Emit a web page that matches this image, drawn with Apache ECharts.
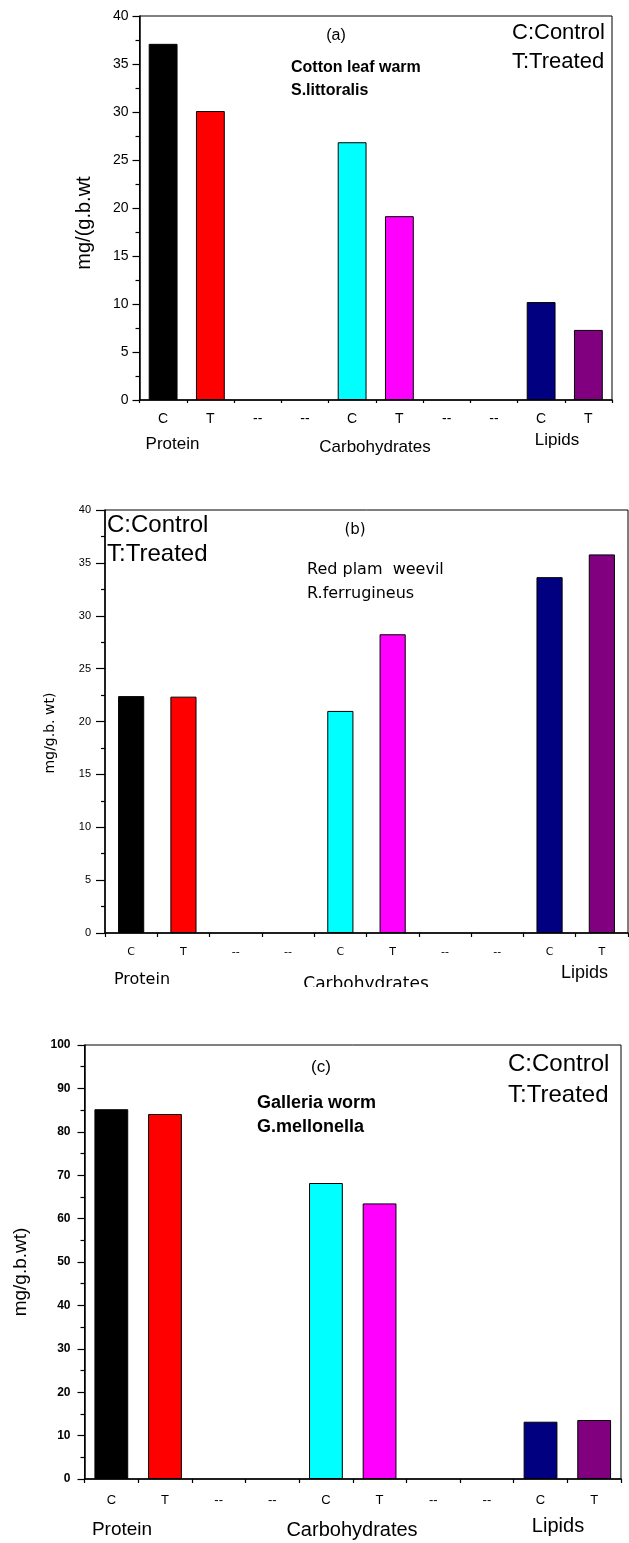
<!DOCTYPE html>
<html>
<head>
<meta charset="utf-8">
<script src="https://cdn.jsdelivr.net/npm/echarts@6/dist/echarts.min.js"></script>
<style>
  html, body { margin: 0; padding: 0; background: #fff; }
  body { width: 629px; height: 1543px; position: relative; overflow: hidden; }
  .panel { position: absolute; left: 0; width: 629px; }
</style>
</head>
<body>
<div id="pa" class="panel" style="top:0px;height:470px"></div>
<div id="pb" class="panel" style="top:490px;height:497px"></div>
<div id="pc" class="panel" style="top:1000px;height:543px"></div>
<script>
// ---- data ----
const categories = ['C', 'T', '--', '--', 'C', 'T', '--', '--', 'C', 'T'];
const valuesA = [37.1, 30.1, null, null, 26.85, 19.15, null, null, 10.2, 7.3];
const valuesB = [22.4, 22.35, null, null, 21.0, 28.25, null, null, 33.65, 35.8];
const valuesC = [85.2, 84.1, null, null, 68.2, 63.5, null, null, 13.2, 13.6];
const groupLabels = ['Protein', 'Carbohydrates', 'Lipids'];
const legendLines = ['C:Control', 'T:Treated'];
const titlesA = ['(a)', 'Cotton leaf warm', 'S.littoralis', 'mg/(g.b.wt'];
const titlesB = ['(b)', 'Red plam  weevil', 'R.ferrugineus', 'mg/g.b. wt)'];
const titlesC = ['(c)', 'Galleria worm', 'G.mellonella', 'mg/g.b.wt)'];
const yScaleA = { min: 0, max: 40, interval: 5 };
const yScaleB = { min: 0, max: 40, interval: 5 };
const yScaleC = { min: 0, max: 100, interval: 10 };

// ---- styles ----
const barColors = ['#000000', '#FF0000', '#888888', '#888888', '#00FFFF', '#FF00FF', '#888888', '#888888', '#000080', '#800080'];
const ARIAL = "'Liberation Sans', Arial, sans-serif";
const DEJA = "'DejaVu Sans', sans-serif";

function txt(x, y, text, font, align, vAlign, rotation) {
  return {
    type: 'text', x: x, y: y, rotation: rotation || 0, z: 100,
    style: {
      text: text, font: font, fill: '#000',
      align: align, textAlign: align,
      verticalAlign: vAlign, textVerticalAlign: vAlign
    }
  };
}

function buildOption(cfg) {
  const data = cfg.values.map((v, i) => ({
    value: v,
    itemStyle: { color: barColors[i], borderColor: '#000', borderWidth: 1 }
  }));
  return {
    animation: false,
    grid: Object.assign({ show: true, borderColor: '#000', borderWidth: 1, backgroundColor: 'transparent' }, cfg.grid),
    xAxis: [
      {
        type: 'category', data: categories, position: 'bottom',
        axisLine: { lineStyle: { color: '#000', width: 1.5 } },
        axisTick: { alignWithLabel: true, length: cfg.xTickLen, lineStyle: { color: '#000', width: 1.2 } },
        axisLabel: { color: '#000', fontSize: cfg.xFont, fontFamily: cfg.xFamily, fontWeight: cfg.xWeight || 'normal', margin: cfg.xMargin, interval: 0 },
        splitLine: { show: false }
      },
      {
        type: 'category', data: categories, position: 'bottom',
        axisLine: { show: false },
        axisTick: { show: true, alignWithLabel: false, length: cfg.xMinorLen, lineStyle: { color: '#000', width: 1.2 } },
        axisLabel: { show: false },
        splitLine: { show: false }
      }
    ],
    yAxis: {
      type: 'value', min: cfg.yScale.min, max: cfg.yScale.max, interval: cfg.yScale.interval,
      axisLine: { show: true, lineStyle: { color: '#000', width: 1.5 } },
      axisTick: { show: true, length: cfg.yTickLen, lineStyle: { color: '#000', width: 1.2 } },
      minorTick: { show: true, splitNumber: 2, length: cfg.yMinorLen, lineStyle: { color: '#000', width: 1.2 } },
      axisLabel: { color: '#000', fontSize: cfg.yFont, fontFamily: cfg.yFamily, fontWeight: cfg.yWeight || 'normal', margin: cfg.yMargin },
      splitLine: { show: false }
    },
    series: [{
      type: 'bar', xAxisIndex: 0, yAxisIndex: 0, barWidth: cfg.barWidth,
      data: data
    }],
    graphic: { elements: cfg.texts }
  };
}

// ---- panel (a) ----
const chartA = echarts.init(document.getElementById('pa'), null, { renderer: 'canvas' });
chartA.setOption(buildOption({
  values: valuesA, yScale: yScaleA,
  grid: { left: 139.5, top: 16, width: 472.5, height: 384 },
  barWidth: '61%',
  xFont: 14, xFamily: ARIAL, xMargin: 12, xTickLen: 6, xMinorLen: 3,
  yFont: 14, yFamily: ARIAL, yMargin: 11, yTickLen: 7, yMinorLen: 4,
  texts: [
    txt(336, 36, titlesA[0], "16px " + ARIAL, 'center', 'middle'),
    txt(291, 68, titlesA[1], "bold 16px " + ARIAL, 'left', 'middle'),
    txt(291, 91, titlesA[2], "bold 16px " + ARIAL, 'left', 'middle'),
    txt(512, 33, legendLines[0], "22px " + ARIAL, 'left', 'middle'),
    txt(512, 62, legendLines[1], "22px " + ARIAL, 'left', 'middle'),
    txt(84, 223, titlesA[3], "20px " + ARIAL, 'center', 'middle', Math.PI / 2),
    txt(172.5, 444, groupLabels[0], "17px " + ARIAL, 'center', 'middle'),
    txt(375, 447, groupLabels[1], "17px " + ARIAL, 'center', 'middle'),
    txt(557, 440, groupLabels[2], "17px " + ARIAL, 'center', 'middle')
  ]
}));

// ---- panel (b) ----
const chartB = echarts.init(document.getElementById('pb'), null, { renderer: 'canvas' });
chartB.setOption(buildOption({
  values: valuesB, yScale: yScaleB,
  grid: { left: 105, top: 20, width: 523, height: 423 },
  barWidth: '50%',
  xFont: 11, xFamily: DEJA, xMargin: 14, xTickLen: 8, xMinorLen: 4,
  yFont: 11, yFamily: ARIAL, yMargin: 14, yTickLen: 9, yMinorLen: 4,
  texts: [
    txt(355, 40, titlesB[0], "15px " + DEJA, 'center', 'middle'),
    txt(307, 80, titlesB[1], "16px " + DEJA, 'left', 'middle'),
    txt(307, 104, titlesB[2], "16px " + DEJA, 'left', 'middle'),
    txt(107, 35, legendLines[0], "24px " + ARIAL, 'left', 'middle'),
    txt(107, 64, legendLines[1], "24px " + ARIAL, 'left', 'middle'),
    txt(50, 243, titlesB[3], "14px " + DEJA, 'center', 'middle', Math.PI / 2),
    txt(142, 490, groupLabels[0], "16px " + DEJA, 'center', 'middle'),
    txt(366, 486, groupLabels[1], "17px " + DEJA, 'center', 'top'),
    txt(584.5, 483, groupLabels[2], "18px " + ARIAL, 'center', 'middle')
  ]
}));

// ---- panel (c) ----
const chartC = echarts.init(document.getElementById('pc'), null, { renderer: 'canvas' });
chartC.setOption(buildOption({
  values: valuesC, yScale: yScaleC,
  grid: { left: 84.5, top: 45, width: 536.5, height: 434 },
  barWidth: '63%',
  xFont: 13, xFamily: ARIAL, xMargin: 15, xTickLen: 7, xMinorLen: 4,
  yFont: 12, yFamily: ARIAL, yWeight: 'bold', yMargin: 14, yTickLen: 7, yMinorLen: 4,
  texts: [
    txt(321, 67, titlesC[0], "17px " + ARIAL, 'center', 'middle'),
    txt(257, 103, titlesC[1], "bold 18px " + ARIAL, 'left', 'middle'),
    txt(257, 127, titlesC[2], "bold 18px " + ARIAL, 'left', 'middle'),
    txt(508, 64, legendLines[0], "24px " + ARIAL, 'left', 'middle'),
    txt(508, 95, legendLines[1], "24px " + ARIAL, 'left', 'middle'),
    txt(21, 272, titlesC[3], "19px " + ARIAL, 'center', 'middle', Math.PI / 2),
    txt(122, 530, groupLabels[0], "19px " + ARIAL, 'center', 'middle'),
    txt(352, 530, groupLabels[1], "20px " + ARIAL, 'center', 'middle'),
    txt(558, 526, groupLabels[2], "20px " + ARIAL, 'center', 'middle')
  ]
}));
</script>
</body>
</html>
